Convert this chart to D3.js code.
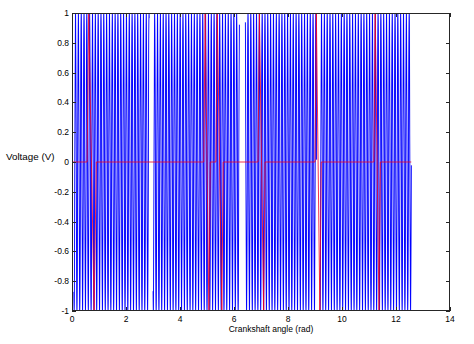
<!DOCTYPE html>
<html>
<head>
<meta charset="utf-8">
<script src="https://cdn.jsdelivr.net/npm/d3@7/dist/d3.min.js"></script>
<style>
  html, body { margin: 0; padding: 0; background: #fff; }
  svg { display: block; }
  text { font-family: "Liberation Sans", Arial, sans-serif; fill: #000; }
</style>
</head>
<body>
<svg id="chart" width="474" height="344"></svg>
<script>
// Axis ticks
const xTicks = [0, 2, 4, 6, 8, 10, 12, 14];
const yTicks = [-1, -0.8, -0.6, -0.4, -0.2, 0, 0.2, 0.4, 0.6, 0.8, 1];

// Crankshaft tooth-wheel signal (blue): teeth per revolution and the
// angular windows where teeth are missing
const crankTeethPerRev = 60;
const crankEnd = 4 * Math.PI;          // two revolutions
const crankStart = 0.07;
const missingToothWindows = [[2.86, 3.0], [6.2, 6.42], [9.06, 9.19]];
const crankSampleStep = 0.002;         // rad between samples

// Camshaft/sync pulses (red): each pulse rises from 0, peaks at +1,
// swings to -1 and returns to 0
const pulseStart  = [0.56, 4.88, 5.33, 6.89, 9.00, 11.18];
const pulseTop    = [0.62, 4.93, 5.38, 6.94, 9.05, 11.23];
const pulseBottom = [0.82, 5.07, 5.55, 7.10, 9.18, 11.37];
const pulseEnd    = [0.90, 5.12, 5.60, 7.15, 9.23, 11.42];

const W = 474, H = 344;
const m = { left: 72, right: 24, top: 13, bottom: 33 };
const iw = W - m.left - m.right, ih = H - m.top - m.bottom;

const svg = d3.select("#chart");
svg.append("rect").attr("width", W).attr("height", H).attr("fill", "#fff");

const x = d3.scaleLinear().domain([0, 14]).range([m.left, m.left + iw]);
const y = d3.scaleLinear().domain([-1, 1]).range([m.top + ih, m.top]);

// Blue crank sensor trace: the dense waveform is stroked on a
// high-resolution canvas, then resampled to screen size
const S = 4;
const HW = W * S, HH = H * S;
const xh = x.copy().range(x.range().map(v => v * S));
const yh = y.copy().range(y.range().map(v => v * S));

const inGap = t => missingToothWindows.some(([a, b]) => t >= a && t <= b);
const crankPts = [];
for (let i = 0; ; i++) {
  const t = crankStart + i * crankSampleStep;
  if (t > crankEnd) break;
  crankPts.push({ t, v: Math.sin(crankTeethPerRev * t), ok: !inGap(t) });
}

const hi = document.createElement("canvas");
hi.width = HW; hi.height = HH;
const hctx = hi.getContext("2d");
hctx.save();
hctx.beginPath();
hctx.rect(m.left * S, m.top * S, iw * S, ih * S);
hctx.clip();
hctx.beginPath();
d3.line().defined(d => d.ok).x(d => xh(d.t)).y(d => yh(d.v)).context(hctx)(crankPts);
hctx.strokeStyle = "#0000ff";
hctx.lineWidth = 3.7;
hctx.stroke();
hctx.restore();

// Resample: narrow tent filter across columns, box filter across rows
const R = 2.6;
const src = hctx.getImageData(0, 0, HW, HH).data;
const lo = document.createElement("canvas");
lo.width = W; lo.height = H;
const lctx = lo.getContext("2d");
const out = lctx.createImageData(W, H);
const taps = [];
for (let i = 0; i < W; i++) {
  const c0 = S * (i + 0.5);
  const list = [];
  let ws = 0;
  for (let c = Math.floor(c0 - R - 1); c <= Math.ceil(c0 + R + 1); c++) {
    if (c < 0 || c >= HW) continue;
    const w = Math.max(0, 1 - Math.abs(c + 0.5 - c0) / R);
    if (w > 0) { list.push([c, w]); ws += w; }
  }
  taps.push({ list, ws });
}
const acc = new Float32Array(W);
for (let j = m.top - 1; j <= m.top + ih + 1; j++) {
  acc.fill(0);
  for (let r = j * S; r < j * S + S; r++) {
    const off = r * HW * 4;
    for (let i = m.left - 1; i <= m.left + iw + 1; i++) {
      const tp = taps[i];
      let s = 0;
      for (const [c, w] of tp.list) s += w * src[off + c * 4 + 3];
      acc[i] += s / tp.ws;
    }
  }
  for (let i = m.left - 1; i <= m.left + iw + 1; i++) {
    const o = (j * W + i) * 4;
    out.data[o] = 0; out.data[o + 1] = 0; out.data[o + 2] = 255;
    out.data[o + 3] = Math.min(255, acc[i] / S);
  }
}
lctx.putImageData(out, 0, 0);

svg.append("image")
  .attr("x", 0).attr("y", 0).attr("width", W).attr("height", H)
  .attr("href", lo.toDataURL("image/png"));

// Red sync trace
const clipId = "plot-clip";
svg.append("clipPath").attr("id", clipId)
  .append("rect").attr("x", m.left).attr("y", m.top).attr("width", iw).attr("height", ih);
const redPts = [[0, 0]];
pulseStart.forEach((s, i) => {
  redPts.push([s, 0], [pulseTop[i], 1], [pulseBottom[i], -1], [pulseEnd[i], 0]);
});
redPts.push([crankEnd, 0]);
const redLine = d3.line().x(d => x(d[0])).y(d => y(d[1]));
svg.append("path")
  .attr("clip-path", `url(#${clipId})`)
  .attr("d", redLine(redPts))
  .attr("fill", "none").attr("stroke", "#f00020").attr("stroke-width", 1)
  .attr("stroke-opacity", 0.8);

// Frame with inward ticks on all four sides
const frame = "#262626";
const tl = 4;
svg.append("rect")
  .attr("x", m.left + 0.5).attr("y", m.top + 0.5)
  .attr("width", iw - 1).attr("height", ih - 1)
  .attr("fill", "none").attr("stroke", frame).attr("stroke-width", 1);

const ax = svg.append("g").attr("stroke", frame).attr("stroke-width", 1);
xTicks.forEach(v => {
  const px = Math.round(x(v)) + 0.5;
  ax.append("line").attr("x1", px).attr("x2", px).attr("y1", m.top + ih).attr("y2", m.top + ih - tl);
  ax.append("line").attr("x1", px).attr("x2", px).attr("y1", m.top).attr("y2", m.top + tl);
});
yTicks.forEach(v => {
  const py = Math.round(y(v)) + 0.5;
  ax.append("line").attr("x1", m.left).attr("x2", m.left + tl).attr("y1", py).attr("y2", py);
  ax.append("line").attr("x1", m.left + iw).attr("x2", m.left + iw - tl).attr("y1", py).attr("y2", py);
});

// Tick labels
const fmt = v => (Math.abs(v) < 1e-9 ? "0" : String(+v.toFixed(1)));
svg.append("g").selectAll("text").data(xTicks).join("text")
  .attr("x", d => x(d)).attr("y", m.top + ih + 11)
  .attr("text-anchor", "middle").attr("font-size", 8.5)
  .text(d => d);
svg.append("g").selectAll("text").data(yTicks).join("text")
  .attr("x", m.left - 3).attr("y", d => y(d) + 3)
  .attr("text-anchor", "end").attr("font-size", 8.5)
  .text(fmt);

// Axis labels
svg.append("text")
  .attr("x", 271).attr("y", m.top + ih + 21)
  .attr("text-anchor", "middle").attr("font-size", 8.5)
  .text("Crankshaft angle (rad)");
svg.append("text")
  .attr("x", 6).attr("y", 160)
  .attr("text-anchor", "start").attr("font-size", 9.8)
  .text("Voltage (V)");
</script>
</body>
</html>
